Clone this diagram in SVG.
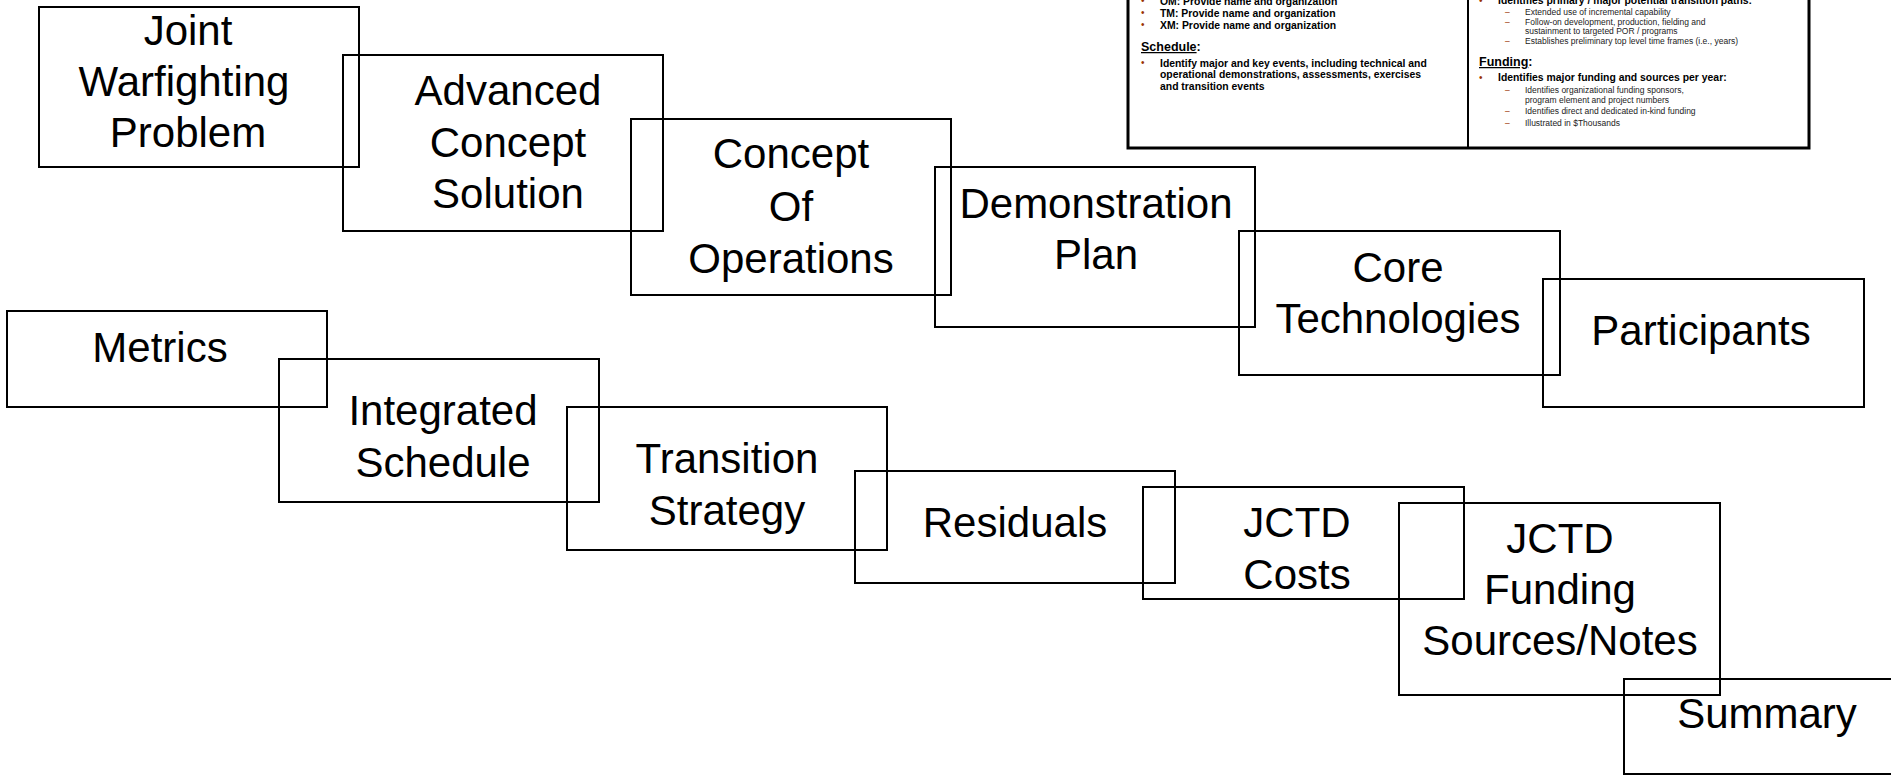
<svg xmlns="http://www.w3.org/2000/svg" width="1891" height="775" viewBox="0 0 1891 775">
<style>
.box{fill:none;stroke:#000;stroke-width:2}
.lbl{font-family:"Liberation Sans",Arial,sans-serif;font-size:42px;fill:#000;text-anchor:middle}
.b{font-family:"Liberation Sans",Arial,sans-serif;font-size:10.4px;font-weight:bold;fill:#000}
.h{font-family:"Liberation Sans",Arial,sans-serif;font-size:12.5px;font-weight:bold;fill:#000}
.s{font-family:"Liberation Sans",Arial,sans-serif;font-size:8.5px;fill:#222}
.bul{font-family:"Liberation Sans",Arial,sans-serif;font-size:10px;fill:#993300}
.dash{font-family:"Liberation Sans",Arial,sans-serif;font-size:8.5px;fill:#993300}
</style>
<rect width="1891" height="775" fill="#fff"/>
<g id="inset">
<rect x="1128" y="-20" width="681" height="168" fill="#fff" stroke="#000" stroke-width="3"/>
<line x1="1468" y1="-20" x2="1468" y2="148" stroke="#000" stroke-width="2"/>
<text class="bul" x="1141" y="4">•</text><text class="b" x="1160" y="4.5">OM:  Provide name and organization</text>
<text class="bul" x="1141" y="16">•</text><text class="b" x="1160" y="16.5">TM:  Provide name and organization</text>
<text class="bul" x="1141" y="28">•</text><text class="b" x="1160" y="28.5">XM:  Provide name and organization</text>
<text class="h" x="1141" y="51"><tspan text-decoration="underline">Schedule</tspan>:</text>
<text class="bul" x="1141" y="66">•</text>
<text class="b" x="1160" y="66.5">Identify major and key events, including technical and</text>
<text class="b" x="1160" y="78">operational demonstrations, assessments, exercises</text>
<text class="b" x="1160" y="89.5">and transition events</text>
<text class="bul" x="1479" y="3.5">•</text><text class="b" x="1498" y="4">Identifies primary / major potential transition paths:</text>
<text class="dash" x="1505" y="14.5">–</text><text class="s" x="1525" y="14.5">Extended use of incremental capability</text>
<text class="dash" x="1505" y="24.5">–</text><text class="s" x="1525" y="24.5">Follow-on development, production, fielding and</text>
<text class="s" x="1525" y="33.5">sustainment to targeted POR / programs</text>
<text class="dash" x="1505" y="44">–</text><text class="s" x="1525" y="44">Establishes preliminary top level time frames (i.e., years)</text>
<text class="h" x="1479" y="66"><tspan text-decoration="underline">Funding</tspan>:</text>
<text class="bul" x="1479" y="80.5">•</text><text class="b" x="1498" y="81">Identifies major funding and sources per year:</text>
<text class="dash" x="1505" y="93">–</text><text class="s" x="1525" y="93">Identifies organizational funding sponsors,</text>
<text class="s" x="1525" y="102.5">program element and project numbers</text>
<text class="dash" x="1505" y="113.5">–</text><text class="s" x="1525" y="113.5">Identifies direct and dedicated in-kind funding</text>
<text class="dash" x="1505" y="125.5">–</text><text class="s" x="1525" y="125.5">Illustrated in $Thousands</text>
</g>
<g id="connectors"></g>
<g id="joint-warfighting-problem">
<rect class="box" x="39" y="7" width="320" height="160"/>
<text class="lbl" x="188" y="45">Joint</text>
<text class="lbl" x="184" y="96">Warfighting</text>
<text class="lbl" x="188" y="147">Problem</text>
</g>
<g id="advanced-concept-solution">
<rect class="box" x="343" y="55" width="320" height="176"/>
<text class="lbl" x="508" y="105">Advanced</text>
<text class="lbl" x="508" y="157">Concept</text>
<text class="lbl" x="508" y="208">Solution</text>
</g>
<g id="concept-of-operations">
<rect class="box" x="631" y="119" width="320" height="176"/>
<text class="lbl" x="791" y="168">Concept</text>
<text class="lbl" x="791" y="221">Of</text>
<text class="lbl" x="791" y="273">Operations</text>
</g>
<g id="demonstration-plan">
<rect class="box" x="935" y="167" width="320" height="160"/>
<text class="lbl" x="1096" y="218">Demonstration</text>
<text class="lbl" x="1096" y="269">Plan</text>
</g>
<g id="core-technologies">
<rect class="box" x="1239" y="231" width="321" height="144"/>
<text class="lbl" x="1398" y="282">Core</text>
<text class="lbl" x="1398" y="333">Technologies</text>
</g>
<g id="participants">
<rect class="box" x="1543" y="279" width="321" height="128"/>
<text class="lbl" x="1701" y="345">Participants</text>
</g>
<g id="metrics">
<rect class="box" x="7" y="311" width="320" height="96"/>
<text class="lbl" x="160" y="362">Metrics</text>
</g>
<g id="integrated-schedule">
<rect class="box" x="279" y="359" width="320" height="143"/>
<text class="lbl" x="443" y="425">Integrated</text>
<text class="lbl" x="443" y="477">Schedule</text>
</g>
<g id="transition-strategy">
<rect class="box" x="567" y="407" width="320" height="143"/>
<text class="lbl" x="727" y="473">Transition</text>
<text class="lbl" x="727" y="525">Strategy</text>
</g>
<g id="residuals">
<rect class="box" x="855" y="471" width="320" height="112"/>
<text class="lbl" x="1015" y="537">Residuals</text>
</g>
<g id="jctd-costs">
<rect class="box" x="1143" y="487" width="321" height="112"/>
<text class="lbl" x="1297" y="537">JCTD</text>
<text class="lbl" x="1297" y="589">Costs</text>
</g>
<g id="jctd-funding-sources-notes">
<rect class="box" x="1399" y="503" width="321" height="192"/>
<text class="lbl" x="1560" y="553">JCTD</text>
<text class="lbl" x="1560" y="604">Funding</text>
<text class="lbl" x="1560" y="655">Sources/Notes</text>
</g>
<g id="summary">
<rect class="box" x="1624" y="679" width="320" height="95"/>
<text class="lbl" x="1767" y="728">Summary</text>
</g>
</svg>
